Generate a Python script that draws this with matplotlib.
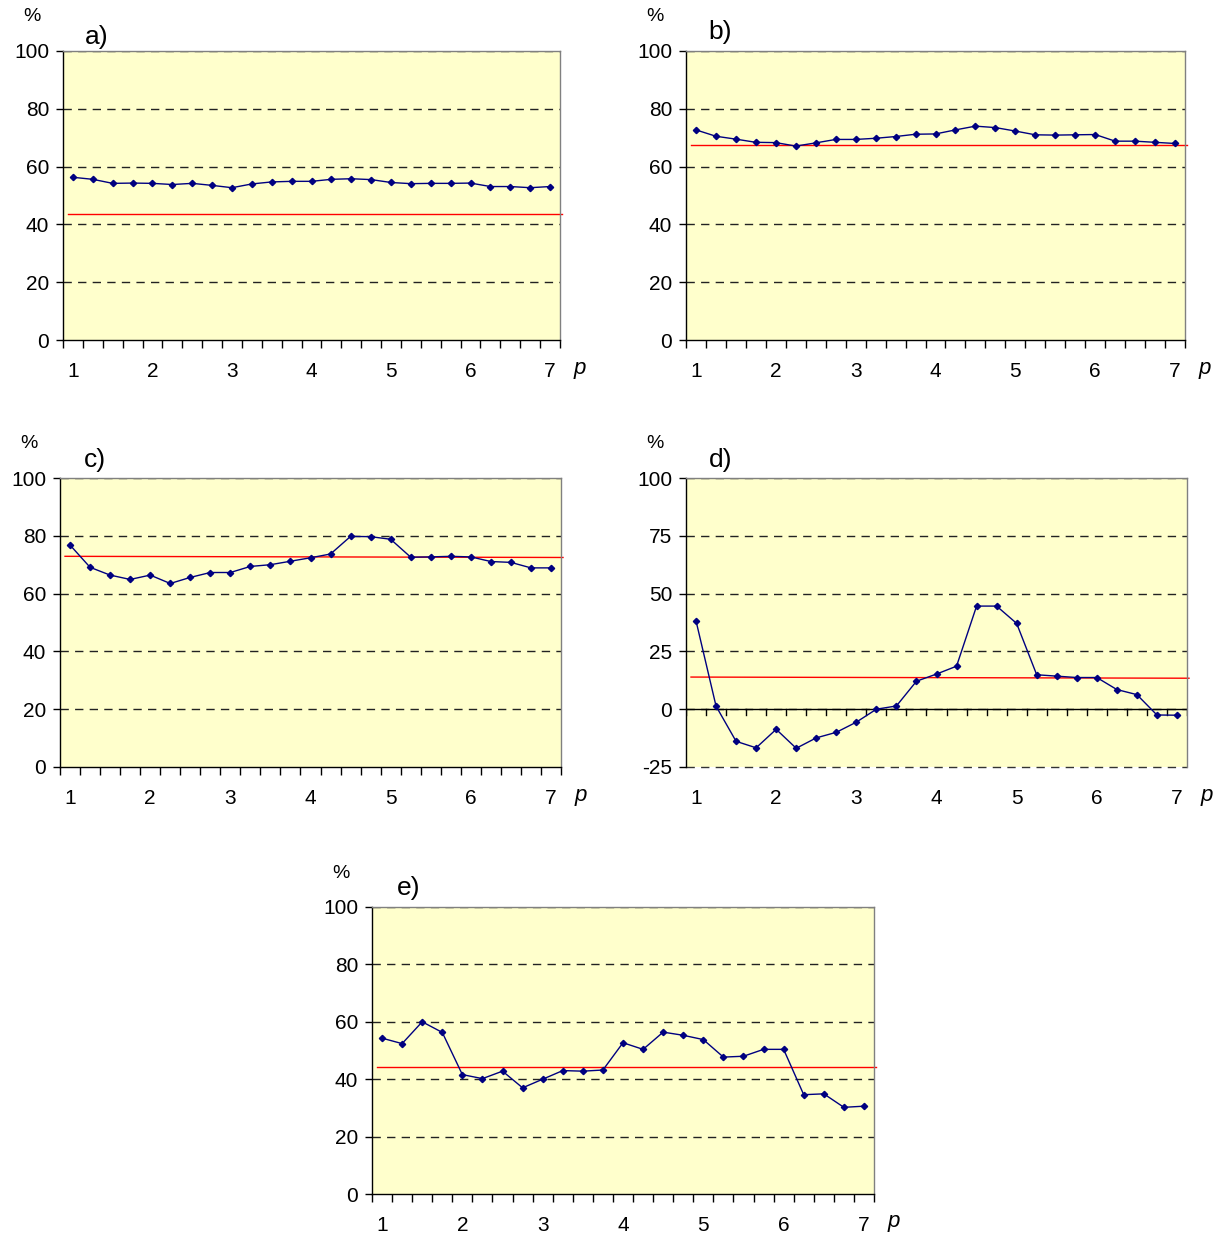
import matplotlib
matplotlib.use("Agg")
import matplotlib.pyplot as plt
import numpy as np

plt.rcParams['font.family'] = ['Liberation Sans', 'DejaVu Sans']

p_values = [1, 1.25, 1.5, 1.75, 2, 2.25, 2.5, 2.75, 3, 3.25, 3.5, 3.75, 4,
            4.25, 4.5, 4.75, 5, 5.25, 5.5, 5.75, 6, 6.25, 6.5, 6.75, 7]
p_labels = ["1", "2", "3", "4", "5", "6", "7"]

series_a = [56.3, 55.6, 54.2, 54.3, 54.2, 53.8, 54.2, 53.5, 52.7, 54.0, 54.7, 54.9, 54.9,
            55.6, 55.8, 55.5, 54.5, 54.1, 54.2, 54.2, 54.3, 53.1, 53.1, 52.7, 53.1]
mean_a = [43.6, 43.6]

series_b = [72.7, 70.5, 69.5, 68.4, 68.3, 67.1, 68.2, 69.4, 69.4, 69.8, 70.4, 71.2, 71.3,
            72.7, 74.0, 73.5, 72.3, 71.0, 70.9, 71.0, 71.1, 68.8, 68.8, 68.4, 68.0]
mean_b = [67.6, 67.6]

series_c = [76.8, 69.1, 66.4, 64.9, 66.4, 63.5, 65.6, 67.3, 67.3, 69.4, 70.0, 71.2, 72.4,
            73.7, 79.8, 79.7, 78.8, 72.6, 72.7, 72.9, 72.7, 71.1, 70.8, 68.9, 68.9]
mean_c = [72.9, 72.5]

series_d = [38.2, 1.3, -13.9, -16.7, -8.7, -16.9, -12.4, -10.0, -5.6, 0.0, 1.4, 12.1, 15.2,
            18.6, 44.6, 44.6, 37.1, 14.9, 14.3, 13.7, 13.7, 8.5, 6.3, -2.5, -2.6]
mean_d = [13.9, 13.4]

series_e = [54.3, 52.4, 60.0, 56.3, 41.6, 40.2, 42.8, 37.0, 40.0, 43.0, 42.8, 43.2, 52.7,
            50.4, 56.4, 55.3, 53.8, 47.7, 48.0, 50.4, 50.4, 34.6, 34.9, 30.2, 30.6]
mean_e = [44.4, 44.4]

yticks_std = [0, 20, 40, 60, 80, 100]
yticks_d = [-25, 0, 25, 50, 75, 100]

panels = [
    ("a)", series_a, mean_a, yticks_std, [63, 51, 560, 340], (0.044, 1.048)),
    ("b)", series_b, mean_b, yticks_std, [686, 51, 1185, 340], (0.044, 1.066)),
    ("c)", series_c, mean_c, yticks_std, [60, 478, 561, 767], (0.048, 1.062)),
    ("d)", series_d, mean_d, yticks_d, [686, 478, 1187, 767], (0.045, 1.062)),
    ("e)", series_e, mean_e, yticks_std, [372, 907, 874, 1194], (0.05, 1.066)),
]

W, H = 1225, 1239
fig = plt.figure(figsize=(W / 100, H / 100), dpi=100)

navy = "#000080"
label_family = ['Liberation Sans Narrow', 'Liberation Sans', 'DejaVu Sans']
for label, vals, mean, yt, (x0, y0, x1, y1), lpos in panels:
    ax = fig.add_axes([x0 / W, 1 - y1 / H, (x1 - x0) / W, (y1 - y0) / H])
    ax.set_facecolor("#FFFFCC")
    n = len(vals)
    xs = np.arange(n)
    ax.set_xlim(-0.5, n - 0.5)
    ax.set_ylim(yt[0], yt[-1])
    for v in yt[1:]:
        ax.axhline(v, color="#222222", lw=1.0, ls=(0, (6, 4.5)), zorder=1)
    if yt[0] < 0:
        ax.axhline(yt[0], color="#333333", lw=1.0, ls=(0, (6, 4.5)), zorder=1, clip_on=False)
    ax.plot([-0.25, n - 0.4], mean, color="#FF0000", lw=1.0, zorder=2, clip_on=False)
    ax.plot(xs, vals, color=navy, lw=1.0, marker="D", ms=3.2, mec=navy, mfc=navy, zorder=3)

    for s in ["top", "right"]:
        ax.spines[s].set_color("#808080")
        ax.spines[s].set_linewidth(1.0)
    ax.spines["left"].set_color("black")
    ax.spines["left"].set_linewidth(1.0)
    if yt[0] < 0:
        ax.spines["bottom"].set_visible(False)
        ax.axhline(0, color="black", lw=1.0, zorder=2)
        for k in range(n + 1):
            ax.plot([k - 0.5, k - 0.5], [0, -2.5], color="black", lw=1.0, zorder=2)
    else:
        ax.spines["bottom"].set_color("black")
        ax.spines["bottom"].set_linewidth(1.0)

    ax.set_yticks(yt)
    ax.set_yticklabels([str(v) for v in yt], fontsize=15)
    ax.tick_params(axis="y", length=5, width=1, pad=5, colors="black")

    ax.set_xticks(xs[::4])
    ax.set_xticklabels(p_labels, fontsize=15)
    ax.set_xticks(np.arange(n + 1) - 0.5, minor=True)
    if yt[0] < 0:
        ax.tick_params(axis="x", which="both", length=0, pad=16)
    else:
        ax.tick_params(axis="x", which="major", length=0, pad=16)
        ax.tick_params(axis="x", which="minor", length=6, width=1, direction="out", colors="black")

    ax.text(1.04, -0.097, "p", transform=ax.transAxes, fontsize=16, style="italic",
            ha="center", va="center")
    ax.text(-0.062, 1.118, "%", transform=ax.transAxes, fontsize=14, ha="center", va="center")
    ax.text(lpos[0], lpos[1], label, transform=ax.transAxes, fontsize=19, ha="left",
            va="center", family=label_family)

fig.savefig("out.png", dpi=100, facecolor="white")
